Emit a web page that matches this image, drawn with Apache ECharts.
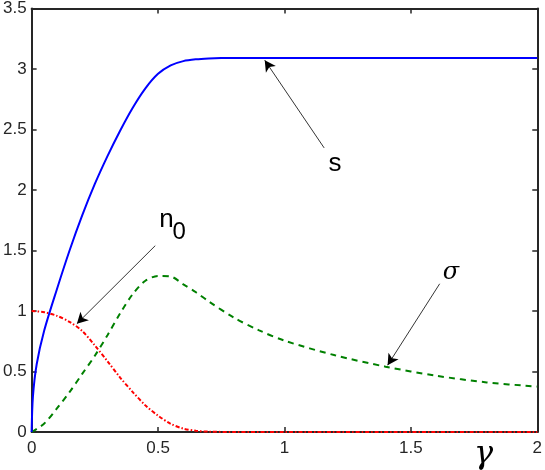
<!DOCTYPE html>
<html>
<head>
<meta charset="utf-8">
<script src="https://cdn.jsdelivr.net/npm/echarts@6/dist/echarts.min.js"></script>
<style>
  html, body { margin: 0; padding: 0; background: #fff; }
  #chart { width: 545px; height: 470px; }
</style>
</head>
<body>
<div id="chart"></div>
<script>
// values
var sX = [0, 0.005, 0.02, 0.05, 0.1, 0.15, 0.2, 0.25, 0.3, 0.35, 0.4, 0.45, 0.5, 0.55, 0.6, 0.65, 0.7, 0.75, 0.8, 0.9, 1.0, 1.5, 2.0];
var sY = [0, 0.29, 0.56, 0.84, 1.18, 1.50, 1.79, 2.05, 2.28, 2.49, 2.68, 2.84, 2.96, 3.03, 3.065, 3.08, 3.087, 3.09, 3.09, 3.09, 3.09, 3.09, 3.09];

var nX = [0, 0.05, 0.1, 0.15, 0.2, 0.25, 0.3, 0.35, 0.4, 0.45, 0.5, 0.55, 0.6, 0.65, 0.7, 0.8, 1.0, 1.5, 2.0];
var nY = [1.0, 0.99, 0.96, 0.91, 0.835, 0.715, 0.585, 0.45, 0.33, 0.22, 0.135, 0.068, 0.028, 0.01, 0.003, 0, 0, 0, 0];

var sigX = [0, 0.05, 0.1, 0.15, 0.2, 0.25, 0.3, 0.35, 0.4, 0.45, 0.5, 0.55, 0.6, 0.65, 0.7, 0.8, 0.9, 1.0, 1.2, 1.4, 1.6, 1.8, 2.0];
var sigY = [0, 0.07, 0.195, 0.33, 0.48, 0.63, 0.80, 0.98, 1.14, 1.25, 1.29, 1.285, 1.22, 1.155, 1.08, 0.945, 0.84, 0.755, 0.634, 0.54, 0.465, 0.41, 0.375];

var xTicks = [0, 0.5, 1, 1.5, 2];
var yTicks = [0, 0.5, 1, 1.5, 2, 2.5, 3, 3.5];

function pairs(xs, ys) {
  return xs.map(function (x, i) { return [x, ys[i]]; });
}

var axisColor = '#262626';
var labelFont = { color: axisColor, fontSize: 17, fontFamily: 'Liberation Sans, Arial, sans-serif' };

function arrow(from, to) {
  return {
    silent: true,
    symbol: ['none', 'arrow'],
    symbolSize: [9, 11],
    label: { show: false },
    lineStyle: { color: '#000', width: 0.8, type: 'solid' },
    data: [[{ coord: from }, { coord: to }]],
    animation: false
  };
}

var chart = echarts.init(document.getElementById('chart'));

var baseX = {
  type: 'value',
  min: xTicks[0],
  max: xTicks[xTicks.length - 1],
  interval: 0.5,
  axisLine: { onZero: false, lineStyle: { color: axisColor, width: 2 } },
  axisTick: { inside: true, length: 5, lineStyle: { color: axisColor, width: 1.5 } },
  splitLine: { show: false }
};
var baseY = {
  type: 'value',
  min: yTicks[0],
  max: yTicks[yTicks.length - 1],
  interval: 0.5,
  axisLine: { onZero: false, lineStyle: { color: axisColor, width: 2 } },
  axisTick: { inside: true, length: 5, lineStyle: { color: axisColor, width: 1.5 } },
  splitLine: { show: false }
};

var option = {
  animation: false,
  grid: { left: 31, top: 7, right: 4, bottom: 38 },
  xAxis: [
    Object.assign({}, baseX, {
      position: 'bottom',
      axisLabel: Object.assign({ margin: 8, formatter: function (v) { return String(v); } }, labelFont)
    }),
    Object.assign({}, baseX, { position: 'top', axisLabel: { show: false } })
  ],
  yAxis: [
    Object.assign({}, baseY, {
      position: 'left',
      axisLabel: Object.assign({ margin: 5, formatter: function (v) { return String(v); } }, labelFont)
    }),
    Object.assign({}, baseY, { position: 'right', axisLabel: { show: false } })
  ],
  series: [
    {
      name: 's',
      type: 'line',
      data: pairs(sX, sY),
      smooth: 0.3,
      showSymbol: false,
      lineStyle: { color: '#0000ff', width: 2 },
      z: 3,
      markLine: arrow([1.157, 2.348], [0.922, 3.073])
    },
    {
      name: 'sigma',
      type: 'line',
      data: pairs(sigX, sigY),
      smooth: 0.3,
      showSymbol: false,
      lineStyle: { color: '#008000', width: 2, type: [6, 5] },
      z: 2,
      markLine: arrow([1.614, 1.225], [1.408, 0.552])
    },
    {
      name: 'n0',
      type: 'line',
      data: pairs(nX, nY),
      smooth: 0.3,
      showSymbol: false,
      lineStyle: { color: '#ff0000', width: 2, type: [4, 2, 1.5, 2] },
      z: 2,
      markLine: arrow([0.489, 1.54], [0.179, 0.895])
    }
  ]
};
chart.setOption(option);

// text annotations placed in data space
function textAt(x, y, text, font) {
  var p = chart.convertToPixel({ xAxisIndex: 0, yAxisIndex: 0 }, [x, y]);
  return {
    type: 'text',
    x: p[0],
    y: p[1],
    style: { text: text, fill: '#000', align: 'center', verticalAlign: 'middle', font: font }
  };
}

chart.setOption({
  graphic: [
    textAt(1.2, 2.216, 's', '26px "Liberation Sans", Arial, sans-serif'),
    textAt(0.533, 1.755, 'n', '26px "Liberation Sans", Arial, sans-serif'),
    textAt(0.584, 1.647, '0', '24px "Liberation Sans", Arial, sans-serif'),
    textAt(1.659, 1.318, 'σ', 'italic 24px "DejaVu Serif", serif'),
    textAt(1.788, -0.19, 'γ', 'italic 32px "DejaVu Serif", serif')
  ]
});
</script>
</body>
</html>
